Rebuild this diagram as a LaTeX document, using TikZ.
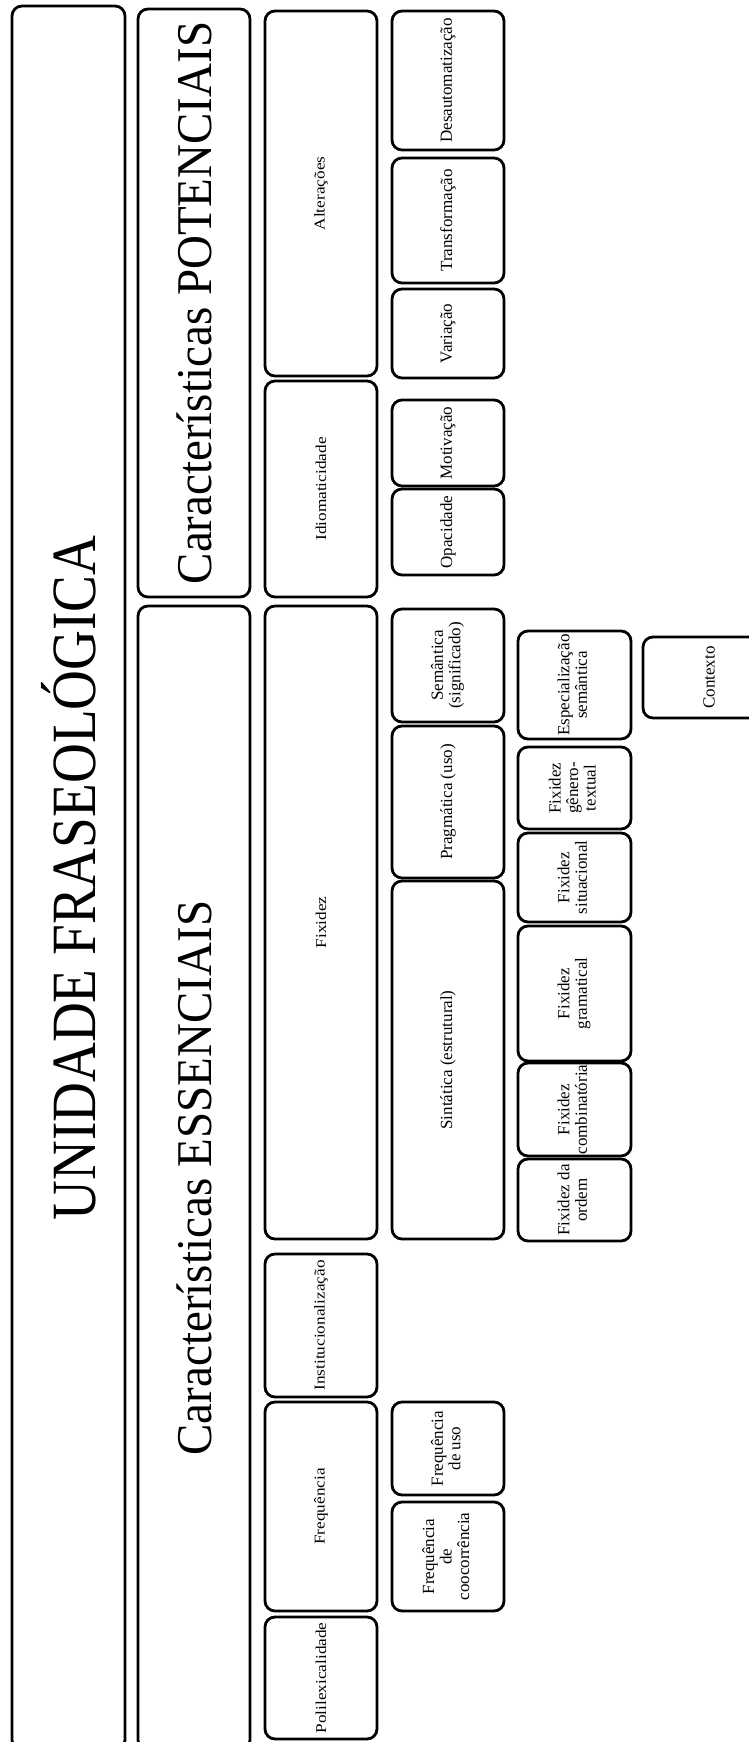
\documentclass[tikz,border=0pt]{standalone}
\usepackage{fontspec}
\setmainfont{Liberation Serif}
\usepackage{graphicx}

% One rounded box, given by its left, right, top and bottom edges;
% its label runs from bottom to top.
\newcommand\cell[7]{%
  \node[#1, minimum width={#4-#3}, minimum height={#6-#5}] (#2)
    at ({(#3+#4)/2},{(#5+#6)/2}) {\rotatebox{90}{#7}};}
\newcommand\lines[1]{\begin{tabular}{@{}c@{}}#1\end{tabular}}

\tikzset{
  box/.style={draw=black, line width=2.8pt, rounded corners=10pt,
              inner sep=0pt, outer sep=0pt, fill=white},
  title/.style={box, font=\fontsize{63}{70}\selectfont},
  head/.style={box, font=\fontsize{50}{56}\selectfont},
  lvlone/.style={box, font=\fontsize{15}{17}\selectfont},
  lvltwo/.style={box, font=\fontsize{17}{17.5}\selectfont},
}

\begin{document}
\begin{tikzpicture}[x=1pt, y=-1pt]
  \useasboundingbox (0,0) rectangle (749,1742);
  \clip (0,0) rectangle (749,1742);

  % top level and the two groups of features
  \cell{title}{ttl}{12}{125}{6}{1750}{\scalebox{0.876}[1]{UNIDADE FRASEOLÓGICA}}
  \cell{head}{pot}{138}{250}{9}{597}{\scalebox{0.94}[1]{Características POTENCIAIS}}
  \cell{head}{ess}{138}{250}{606}{1750}{\scalebox{0.94}[1]{Características ESSENCIAIS}}

  % features
  \cell{lvlone}{alt}{265}{377}{11}{376}{\scalebox{1.15}[1]{Alterações}}
  \cell{lvlone}{idi}{265}{377}{381}{597}{\scalebox{1.15}[1]{Idiomaticidade}}
  \cell{lvlone}{fix}{265}{377}{606}{1239}{\scalebox{1.15}[1]{Fixidez}}
  \cell{lvlone}{ins}{265}{377}{1254}{1397}{\scalebox{1.15}[1]{Institucionalização}}
  \cell{lvlone}{fre}{265}{377}{1402}{1611}{\scalebox{1.15}[1]{Frequência}}
  \cell{lvlone}{pol}{265}{377}{1617}{1739}{\scalebox{1.15}[1]{Polilexicalidade}}

  % sub-features
  \cell{lvltwo}{des}{392}{504}{11}{150}{Desautomatização}
  \cell{lvltwo}{tra}{392}{504}{158}{283}{Transformação}
  \cell{lvltwo}{var}{392}{504}{289}{378}{Variação}
  \cell{lvltwo}{mot}{392}{504}{400}{486}{Motivação}
  \cell{lvltwo}{opa}{392}{504}{489}{575}{Opacidade}
  \cell{lvltwo}{sem}{392}{504}{609}{722}{\lines{Semântica\\(significado)}}
  \cell{lvltwo}{pra}{392}{504}{726}{878}{Pragmática (uso)}
  \cell{lvltwo}{sin}{392}{504}{881}{1239}{Sintática (estrutural)}
  \cell{lvltwo}{fus}{392}{504}{1402}{1495}{\lines{Frequência\\de uso}}
  \cell{lvltwo}{fco}{392}{504}{1502}{1611}{\lines{Frequência\\de\\coocorrência}}

  % kinds of fixedness
  \cell{lvltwo}{esp}{518}{631}{631}{739}{\lines{Especialização\\semântica}}
  \cell{lvltwo}{gen}{518}{631}{747}{829}{\lines{Fixidez\\gênero-\\textual}}
  \cell{lvltwo}{sit}{518}{631}{833}{922}{\lines{Fixidez\\situacional}}
  \cell{lvltwo}{gra}{518}{631}{926}{1061}{\lines{Fixidez\\gramatical}}
  \cell{lvltwo}{com}{518}{631}{1063}{1156}{\lines{Fixidez\\combinatória}}
  \cell{lvltwo}{ord}{518}{631}{1159}{1241}{\lines{Fixidez da\\ordem}}

  % context
  \cell{lvltwo}{ctx}{643}{775}{637}{718}{Contexto}
\end{tikzpicture}
\end{document}
